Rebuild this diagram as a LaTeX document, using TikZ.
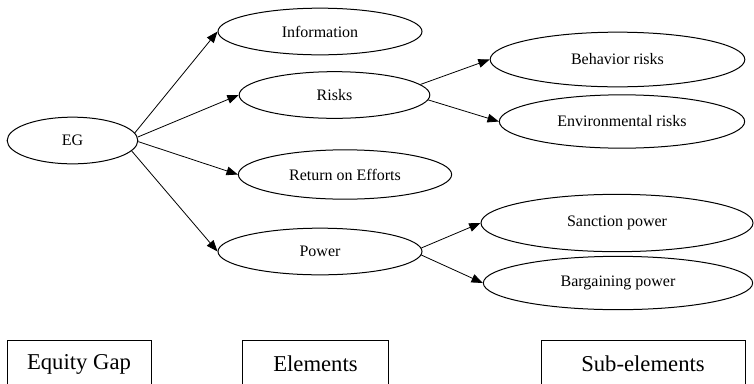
\documentclass[tikz,border=0pt]{standalone}
\usepackage{fontspec}
\setmainfont{Liberation Serif}
\usetikzlibrary{shapes.geometric, arrows.meta}

\begin{document}
\begin{tikzpicture}[x=0.75pt, y=-0.75pt]
    \tikzstyle{elem} = [draw, ellipse, line width=0.75pt, inner sep=0pt, font=\fontsize{12}{14}\selectfont];
    \tikzstyle{legend} = [draw, rectangle, line width=0.75pt, inner sep=0pt, minimum height=36pt, font=\fontsize{17}{20}\selectfont];
    \tikzstyle{link} = [line width=0.6pt, -{Triangle[length=8.5pt, width=6.5pt]}];

    \clip (0, 0) rectangle (754, 383);

    % root
    \node[elem, minimum width=98pt, minimum height=35pt] (EG) at (72.5, 140.5) {EG};

    % elements
    \node[elem, minimum width=153pt, minimum height=35pt] (info) at (320, 31.5) {Information};
    \node[elem, minimum width=143pt, minimum height=35pt] (risks) at (334.5, 95) {Risks};
    \node[elem, minimum width=160pt, minimum height=37pt] (return) at (345, 174.5) {Return on Efforts};
    \node[elem, minimum width=153pt, minimum height=35pt] (power) at (320, 251.5) {Power};

    % sub-elements
    \node[elem, minimum width=191pt, minimum height=41pt] (behav) at (617.5, 59.5) {Behavior risks};
    \node[elem, minimum width=184pt, minimum height=40pt] (envir) at (622, 121.5) {Environmental risks};
    \node[elem, minimum width=204pt, minimum height=43pt] (sanct) at (617, 223) {Sanction power};
    \node[elem, minimum width=202pt, minimum height=40pt] (barg) at (618, 283) {Bargaining power};

    % legend boxes
    \node[legend, minimum width=108pt] (gapbox) at (79, 364) {Equity Gap};
    \node[legend, minimum width=109pt] (elembox) at (315.5, 364) {Elements};
    \node[legend, minimum width=153pt] (subbox) at (643, 364) {Sub-elements};

    \draw[link] (EG.7.5) -- (info.west);
    \draw[link] (EG.3) -- (risks.west);
    \draw[link] (EG.-1) -- (return.west);
    \draw[link] (EG.-10) -- (power.west);

    \draw[link] (risks.7) -- (behav.west);
    \draw[link] (risks.-3) -- (envir.west);

    \draw[link] (power.2.5) -- (sanct.west);
    \draw[link] (power.-2) -- (barg.west);
\end{tikzpicture}
\end{document}
